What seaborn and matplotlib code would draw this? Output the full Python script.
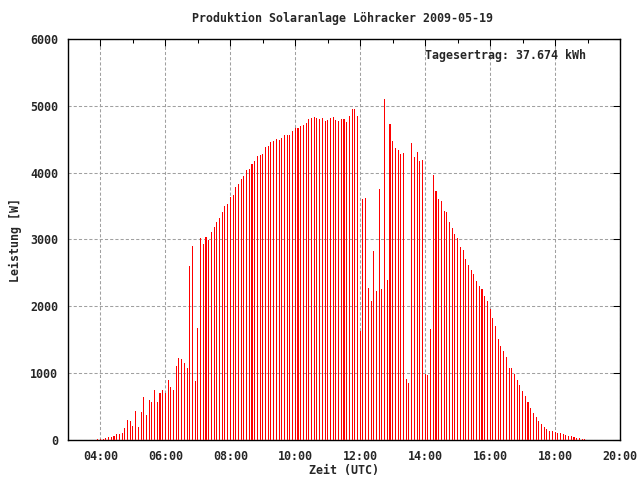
import numpy as np
import pandas as pd
import matplotlib
matplotlib.use("Agg")
import matplotlib.pyplot as plt
import seaborn as sns

# ---- data (5-minute samples, 03:55 .. 18:55 UTC) ----
start_time = "03:55"
end_time = "18:55"
power_w = [
    15, 15, 15, 30, 45, 45, 60, 90, 90, 105, 180, 300, 285,          # 03:55-04:55
    210, 435, 195, 420, 645, 375, 600, 570, 750, 570, 705, 750,      # 05:00-05:55
    700, 900, 795, 750, 1110, 1230, 1215, 1155, 1080, 2600, 2900, 890,  # 06:00-06:55
    1675, 3020, 2930, 3035, 2990, 3110, 3185, 3260, 3320, 3410, 3500, 3530,  # 07
    3635, 3665, 3785, 3830, 3905, 3950, 4040, 4055, 4130, 4175, 4250, 4265,  # 08
    4280, 4385, 4400, 4460, 4475, 4505, 4490, 4520, 4565, 4565, 4565, 4625,  # 09
    4670, 4670, 4700, 4710, 4740, 4800, 4815, 4830, 4815, 4800, 4815, 4770,  # 10
    4785, 4815, 4830, 4785, 4770, 4800, 4800, 4755, 4845, 4950, 4950, 4845,  # 11
    1635, 3605, 3620, 2275, 2080, 2830, 2230, 3755, 2260, 5100, 2395, 4725,  # 12
    4475, 4370, 4340, 4280, 4295, 910, 855, 4445, 4235, 4310, 4175, 4190,    # 13
    985, 970, 1660, 3965, 3725, 3605, 3575, 3425, 3410, 3260, 3170, 3080,    # 14
    3020, 2885, 2840, 2710, 2620, 2545, 2485, 2380, 2305, 2260, 2155, 2080,  # 15
    1960, 1825, 1705, 1510, 1405, 1330, 1240, 1075, 1075, 985, 900, 825,     # 16
    735, 660, 570, 480, 405, 345, 285, 240, 195, 165, 135, 135,              # 17
    120, 105, 105, 90, 75, 60, 60, 45, 30, 30, 15, 15,                       # 18
]
x_tick_hours = [4, 6, 8, 10, 12, 14, 16, 18, 20]
x_tick_labels = ["04:00", "06:00", "08:00", "10:00", "12:00", "14:00", "16:00", "18:00", "20:00"]
y_ticks = [0, 1000, 2000, 3000, 4000, 5000, 6000]
title = "Produktion Solaranlage Löhracker 2009-05-19"
xlabel = "Zeit (UTC)"
ylabel = "Leistung [W]"
note = "Tagesertrag: 37.674 kWh"

times = pd.date_range("2009-05-19 " + start_time, "2009-05-19 " + end_time, freq="5min")
hours = times.hour + times.minute / 60.0
df = pd.DataFrame({"hour": np.round(hours, 6), "power": power_w})

# ---- style ----
sns.set_style("white")
plt.rcParams["font.family"] = ["DejaVu Sans Mono", "DejaVu Sans"]
plt.rcParams["font.weight"] = "bold"
FS = 8.4

fig = plt.figure(figsize=(6.4, 4.8), dpi=100)
ax = fig.add_axes([68 / 640, 40 / 480, 552 / 640, 401 / 480])

sns.barplot(data=df, x="hour", y="power", native_scale=True, color="#ff0000",
            width=0.3696, linewidth=0, errorbar=None, saturation=1,
            snap=True, ax=ax, zorder=3)

ax.set_xlim(3, 20)
ax.set_ylim(0, 6000)
ax.set_xticks(x_tick_hours)
ax.set_xticklabels(x_tick_labels, fontsize=FS, fontweight="bold")
ax.set_xticks(range(3, 21), minor=True)
ax.set_yticks(y_ticks)
ax.set_yticklabels([str(v) for v in y_ticks], fontsize=FS, fontweight="bold")

ax.grid(True, which="major", color="#a0a0a0", linestyle=(0, (3, 2)), linewidth=0.75, zorder=1)
ax.set_axisbelow(True)

for s in ax.spines.values():
    s.set_visible(True)
    s.set_color("black")
    s.set_linewidth(1.0)

ax.tick_params(axis="both", which="both", direction="in", top=True, right=True,
               color="black", width=0.75)
ax.tick_params(axis="both", which="major", length=5)
ax.tick_params(axis="both", which="minor", length=3)
ax.tick_params(axis="x", which="major", pad=7)
ax.tick_params(axis="y", which="major", pad=7)

ax.set_xlabel(xlabel, fontsize=FS, fontweight="bold", labelpad=1)
ax.set_ylabel(ylabel, fontsize=FS, fontweight="bold", labelpad=6)
fig.text(343 / 640, 1 - 18 / 480, title, ha="center", va="center", fontsize=FS, fontweight="bold")
ax.text((425 - 68) / 552, (440 - 56) / 401, note, transform=ax.transAxes,
        ha="left", va="center", fontsize=FS, fontweight="bold")

fig.savefig("out.png", dpi=100)
